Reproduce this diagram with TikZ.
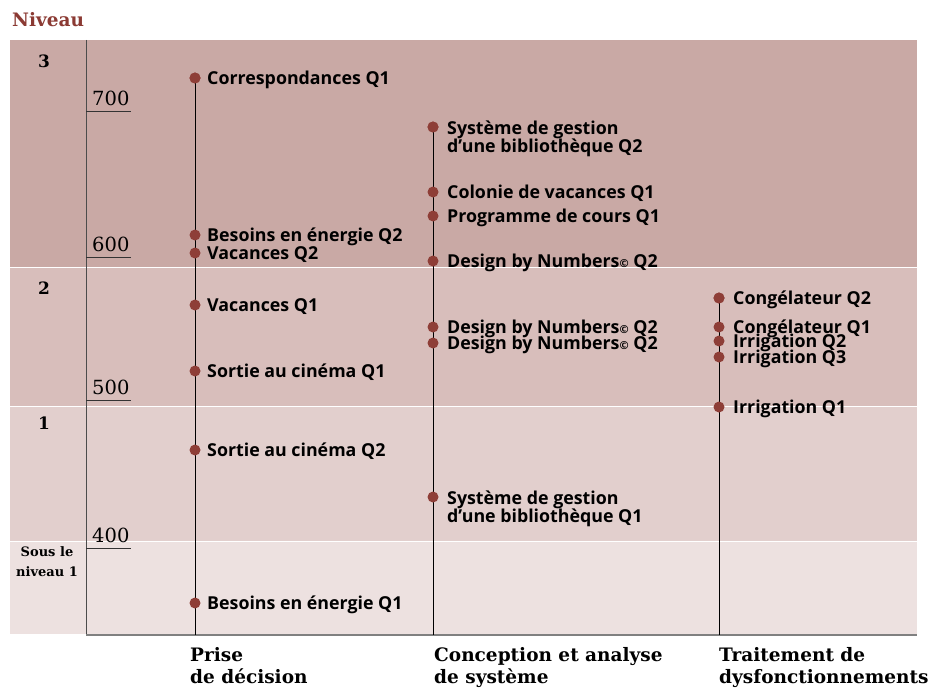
\documentclass[tikz,border=0pt]{standalone}
\usepackage{fontspec}
\setmainfont{DejaVu Serif}
\newfontfamily\lblsans{Open Sans}
\definecolor{bandA}{HTML}{C9A9A5}
\definecolor{bandB}{HTML}{D8BEBB}
\definecolor{bandC}{HTML}{E2CFCD}
\definecolor{bandD}{HTML}{EDE1E0}
\definecolor{dotred}{HTML}{8E3E37}
\definecolor{titlered}{HTML}{8B3A33}
\tikzset{
  dot/.style={circle,fill=dotred,inner sep=0pt,minimum size=11pt},
  lbl/.style={anchor=base west,inner sep=0pt,align=left,font=\lblsans\bfseries\fontsize{17.8}{18}\selectfont},
  colline/.style={draw=black,line width=0.9pt},
  lvl/.style={font=\bfseries\fontsize{17}{20}\selectfont,inner sep=0pt},
  tick/.style={draw=black!80,line width=0.8pt},
  ticknum/.style={anchor=base west,inner sep=0pt,font=\fontsize{19.5}{20}\selectfont},
  catlbl/.style={anchor=north west,inner sep=0pt,align=left,font=\bfseries\fontsize{18.5}{22}\selectfont}
}
\newcommand{\cpy}{{\fontsize{11}{11}\selectfont ©}}
\begin{document}
\begin{tikzpicture}[x=1pt,y=-1pt]
\useasboundingbox (0,0) rectangle (928,693);
\fill[white] (0,0) rectangle (928,693);
% bands
\fill[bandA] (10,40) rectangle (917,266.5);
\fill[bandB] (10,268) rectangle (917,405.5);
\fill[bandC] (10,407) rectangle (917,540.5);
\fill[bandD] (10,542) rectangle (917,634);
% title
\node[anchor=base west,inner sep=0pt,text=titlered,font=\bfseries\fontsize{18.5}{20}\selectfont] (title) at (12,27) {Niveau};
% level labels
\node[lvl] (l3) at (44,61) {3};
\node[lvl] (l2) at (44,288) {2};
\node[lvl] (l1) at (44,423) {1};
\node[inner sep=0pt,align=center,font=\bfseries\fontsize{13}{20}\selectfont] (l0) at (47,562) {Sous le\\niveau 1};
% axes
\coordinate (axtop) at (86,40);
\coordinate (axbot) at (86,635);
\coordinate (axright) at (917,635);
\draw[draw=black!70,line width=0.9pt] (axtop) -- (axbot);
\draw[draw=black!50,line width=2pt] (axbot) -- (axright);
% ticks
\foreach \v/\yy in {700/111,600/257,500/400,400/548}{
  \coordinate (t\v a) at (86,\yy);
  \coordinate (t\v b) at (131,\yy);
  \draw[tick] (t\v a) -- (t\v b);
  \node[ticknum] (n\v) at (92,\yy-6) {\v};
}
% column lines
\coordinate (c1bot) at (195,635);
\coordinate (c2bot) at (433,635);
\coordinate (c3bot) at (719,635);
\node[dot] (a1) at (195,78) {};
\node[dot] (b1) at (433,127) {};
\node[dot] (c1) at (719,298) {};
\draw[colline] (a1.center) -- (c1bot);
\draw[colline] (b1.center) -- (c2bot);
\draw[colline] (c1.center) -- (c3bot);
% column 1
\foreach \n/\yy in {a2/235,a3/253,a4/305,a5/371,a6/450,a7/603}{
  \node[dot] (\n) at (195,\yy) {};
}
\node[dot] (a1) at (195,78) {};
\node[lbl] (ta1) at (207,84) {Correspondances Q1};
\node[lbl] (ta2) at (207,241) {Besoins en énergie Q2};
\node[lbl] (ta3) at (207,259) {Vacances Q2};
\node[lbl] (ta4) at (207,311) {Vacances Q1};
\node[lbl] (ta5) at (207,377) {Sortie au cinéma Q1};
\node[lbl] (ta6) at (207,456) {Sortie au cinéma Q2};
\node[lbl] (ta7) at (207,609) {Besoins en énergie Q1};
% column 2
\foreach \n/\yy in {b2/192,b3/216,b4/261,b5/327,b6/343,b7/497}{
  \node[dot] (\n) at (433,\yy) {};
}
\node[dot] (b1) at (433,127) {};
\node[lbl] (tb1) at (447,152) {Système de gestion\\d’une bibliothèque Q2};
\node[lbl] (tb2) at (447,198) {Colonie de vacances Q1};
\node[lbl] (tb3) at (447,222) {Programme de cours Q1};
\node[lbl] (tb4) at (447,267) {Design by Numbers\cpy{} Q2};
\node[lbl] (tb5) at (447,333) {Design by Numbers\cpy{} Q2};
\node[lbl] (tb6) at (447,349) {Design by Numbers\cpy{} Q2};
\node[lbl] (tb7) at (447,522) {Système de gestion\\d’une bibliothèque Q1};
% column 3
\foreach \n/\yy in {c2/327,c3/341,c4/357,c5/407}{
  \node[dot] (\n) at (719,\yy) {};
}
\node[dot] (c1) at (719,298) {};
\node[lbl] (tc1) at (733,304) {Congélateur Q2};
\node[lbl] (tc2) at (733,333) {Congélateur Q1};
\node[lbl] (tc3) at (733,347) {Irrigation Q2};
\node[lbl] (tc4) at (733,363) {Irrigation Q3};
\node[lbl] (tc5) at (733,413) {Irrigation Q1};
% categories
\node[catlbl] (k1) at (190,647) {Prise\\de décision};
\node[catlbl] (k2) at (434,647) {Conception et analyse\\de système};
\node[catlbl] (k3) at (719,647) {Traitement de\\dysfonctionnements};
\end{tikzpicture}
\end{document}
